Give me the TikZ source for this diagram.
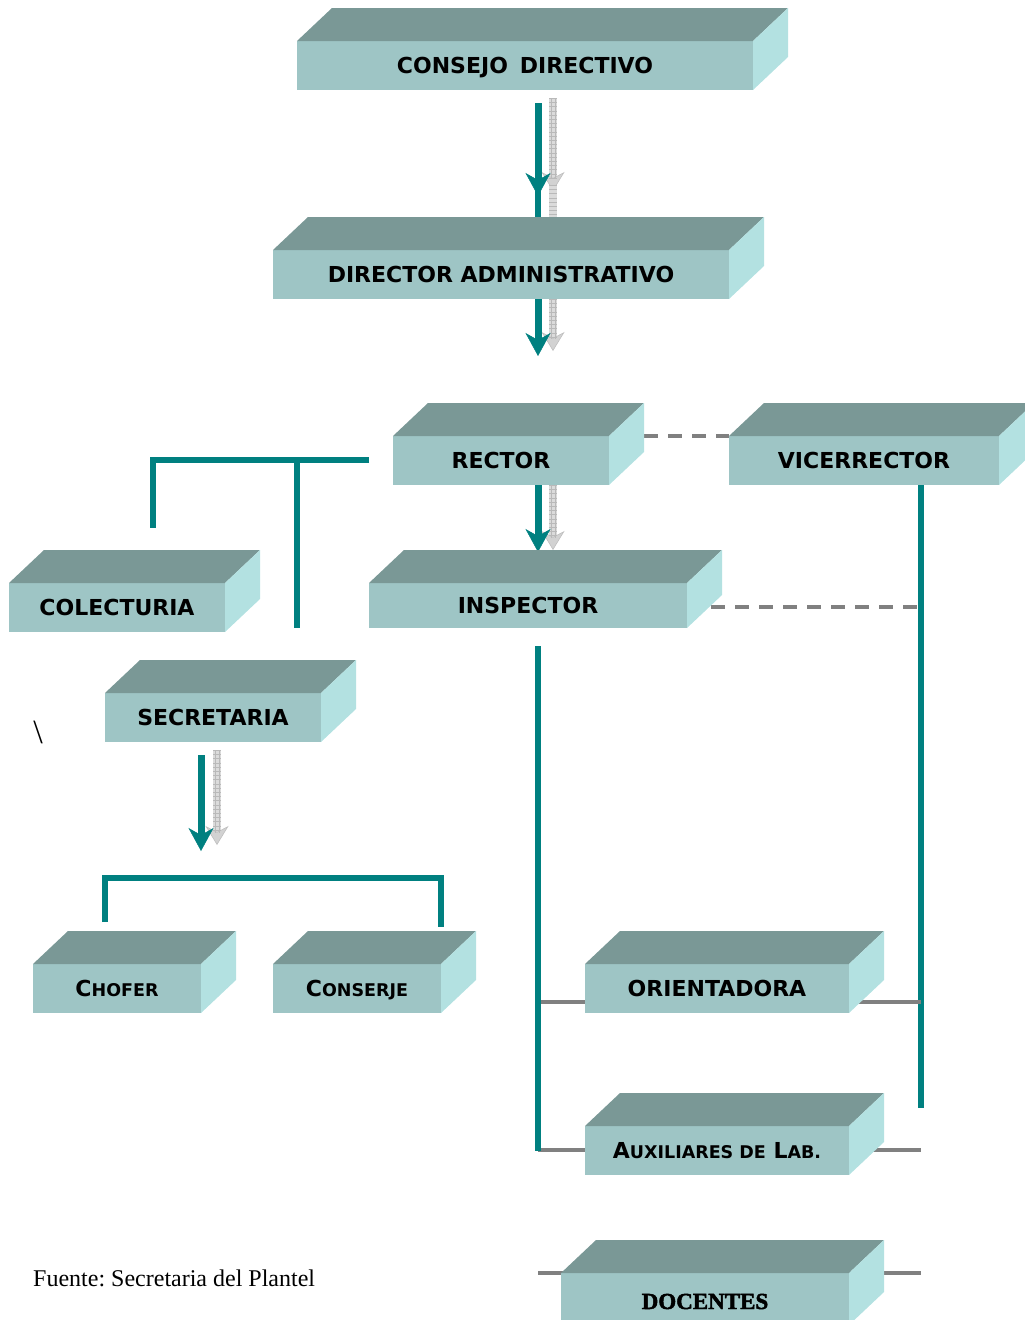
\documentclass[tikz,border=0pt]{standalone}
\usepackage{fontspec}
\setmainfont{Liberation Serif}
\newfontfamily\lblfont{DejaVu Sans}
\newfontfamily\docfont{Liberation Serif}[BoldFeatures={FakeBold=2}]
\usetikzlibrary{arrows.meta,backgrounds,calc}
\definecolor{topc}{HTML}{7A9896}
\definecolor{frontc}{HTML}{9EC5C5}
\definecolor{sidec}{HTML}{B3E1E1}
\definecolor{tealc}{HTML}{008080}
\definecolor{grayl}{HTML}{808080}
\tikzset{
  frontbox/.style={fill=frontc, inner sep=0pt, outer sep=0pt, anchor=north west,
    font=\lblfont\bfseries\fontsize{22}{24}\selectfont, text=black,
    text height=16pt, text depth=0pt},
  tealline/.style={draw=tealc, line width=6.5pt},
  tealarr/.style={draw=tealc, line width=7pt, -{Stealth[length=23pt,width=25pt,inset=7pt,line width=0.5pt]}},
  grayarr/.style={draw=gray!28, line width=8pt, -{Stealth[length=19pt,width=23pt,inset=6pt,line width=0.6pt,fill=gray!35,color=gray!50]}},
  grayticks/.style={draw=gray!55, line width=8pt, dash pattern=on 0.6pt off 3.6pt},
  dashg/.style={draw=grayl, line width=4pt, dash pattern=on 14pt off 10pt},
  solidg/.style={draw=grayl, line width=3.5pt},
}
\newcommand{\orgbox}[6]{%
  \node[frontbox, minimum width=#4pt, minimum height=#5pt] (#1) at (#2,#3) {#6};
  \fill[topc] (#1.north west) -- ++(35,-33) -- ([shift={(35pt,33pt)}]#1.north east) -- (#1.north east) -- cycle;
  \fill[sidec] (#1.north east) -- ++(35,-33) -- ++(0,#5) -- (#1.south east) -- cycle;
}
\newcommand{\scl}[2]{#1{\fontsize{17.5}{18}\selectfont #2}}
\newcommand{\grayarrow}[3]{%
  \draw[grayarr] (#1,#2) -- (#1,#3);
  \draw[grayticks] (#1,#2) -- (#1,#3-12);
  \draw[gray!55, line width=0.5pt] (#1-2,#2) -- (#1-2,#3-12) (#1+2,#2) -- (#1+2,#3-12);
}
\begin{document}
\begin{tikzpicture}[x=1pt,y=-1pt]
\useasboundingbox (0,0) rectangle (1025,1320);
\clip (0,0) rectangle (1025,1320);

\orgbox{cd}{297}{41}{456}{49}{CONSEJO\hspace{12pt}DIRECTIVO}
\orgbox{da}{273}{250}{456}{49}{DIRECTOR ADMINISTRATIVO}
\orgbox{rec}{393}{436}{216}{49}{RECTOR}
\orgbox{vic}{729}{436}{270}{49}{VICERRECTOR}
\orgbox{ins}{369}{583}{318}{45}{INSPECTOR}
\orgbox{col}{9}{583}{216}{49}{COLECTURIA}
\orgbox{sec}{105}{693}{216}{49}{SECRETARIA}
\orgbox{cho}{33}{964}{168}{49}{\scl{C}{HOFER}}
\orgbox{con}{273}{964}{168}{49}{\scl{C}{ONSERJE}}
\orgbox{ori}{585}{964}{264}{49}{ORIENTADORA}
\orgbox{aux}{585}{1126}{264}{49}{\scl{A}{UXILIARES DE} \scl{L}{AB.}}
\orgbox{doc}{561}{1273}{288}{52}{\raisebox{-2pt}{\docfont\fontsize{23}{23}\selectfont\bfseries DOCENTES}}

\node[anchor=west, inner sep=0pt, font=\fontsize{24}{26}\selectfont] (fte) at (33,1278) {\frenchspacing Fuente: Secretaria del Plantel};
\node[font=\fontsize{34}{34}\selectfont] (bs) at (38,732) {\textbackslash};

\begin{pgfonlayer}{background}
  % CONSEJO -> DIRECTOR
  \grayarrow{553}{98}{191}
  \draw[gray!28, line width=8pt] (553,185) -- (553,217);
  \draw[grayticks] (553,185) -- (553,217);
  \draw[tealline] (538,190) -- (538,217);
  \draw[tealarr] (538,103) -- (538,196);
  % DIRECTOR -> RECTOR
  \grayarrow{553}{299}{351}
  \draw[tealarr] (538,299) -- (538,356);
  % RECTOR -> INSPECTOR
  \grayarrow{553}{485}{550}
  \draw[tealarr] (538,485) -- (538,552);
  % RECTOR - VICERRECTOR dashed
  \draw[dashg] (rec.north east -| 644,0) -- (vic.north west);
  % INSPECTOR - line dashed
  \draw[dashg] (ins.east |- 0,607) -- (918,607);
  % Vicerrector vertical
  \draw[tealline] (vic.south -| 921,0) -- (921,1108);
  % left L
  \draw[tealline] (369,460) -- (153,460) -- (153,528);
  \draw[tealline] (297,460) -- (297,628);
  % Secretaria arrows
  \grayarrow{217}{750}{845}
  \draw[tealarr] (201,755) -- (201,851);
  % bracket
  \draw[tealline] (cho.north -| 105,0) ++(0,-42) -- (105,878) -- (441,878) -- (441,927);
  % gray horizontals
  \draw[solidg] (538,1002) -- (921,1002);
  \draw[solidg] (538,1150) -- (921,1150);
  \draw[solidg] (538,1273) -- (921,1273);
  % inspector vertical
  \draw[tealline] (538,646) -- (538,1151);
\end{pgfonlayer}
\end{tikzpicture}
\end{document}
